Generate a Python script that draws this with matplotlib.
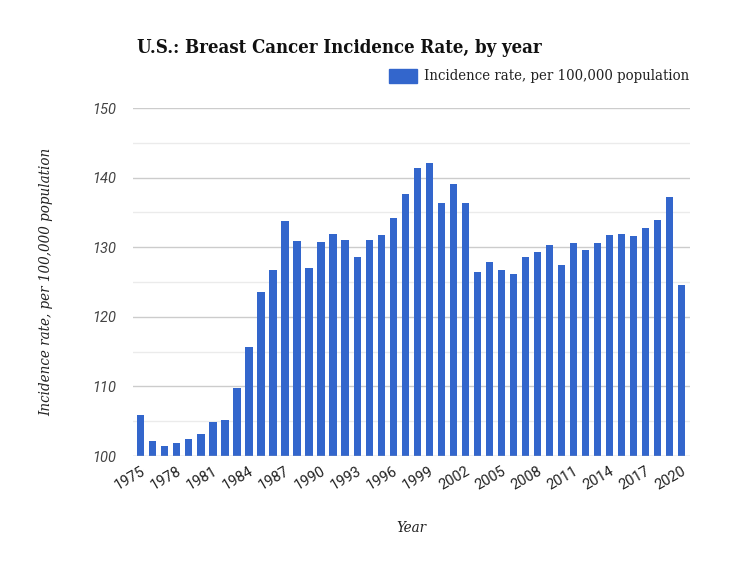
import matplotlib
matplotlib.use("Agg")
import matplotlib.pyplot as plt
from matplotlib.patches import Rectangle
from matplotlib import font_manager as fm

years = list(range(1975, 2021))
rates = [105.9, 102.1, 101.5, 101.9, 102.5, 103.1, 104.9, 105.2, 109.8, 115.7,
         123.6, 126.7, 133.8, 130.9, 127.0, 130.8, 131.9, 131.0, 128.6, 131.0,
         131.8, 134.2, 137.7, 141.4, 142.1, 136.4, 139.1, 136.4, 126.5, 127.9,
         126.7, 126.2, 128.6, 129.3, 130.3, 127.5, 130.6, 129.6, 130.6, 131.8,
         131.9, 131.6, 132.8, 133.9, 137.2, 124.5]
xtick_years = list(range(1975, 2021, 3))
ytick_vals = [100, 110, 120, 130, 140, 150]
series_name = "Incidence rate, per 100,000 population"
title = "U.S.: Breast Cancer Incidence Rate, by year"

cond = [f for f in fm.fontManager.ttflist if f.name == "DejaVu Serif" and "ondensed" in f.fname]
serif = "DejaVu Serif"
stretch = "condensed" if cond else "normal"

fig = plt.figure(figsize=(7.5, 5.63), dpi=100)
ax = fig.add_axes([133/750, 1-456/563, (690-133)/750, (456-108)/563])

bar_color = "#3366CC"
ax.bar(years, [r - 100 for r in rates], bottom=100, width=0.6, color=bar_color, zorder=3)

ax.set_ylim(100, 150)
ax.set_xlim(1974.35, 2020.7)

for v in range(105, 150, 10):
    ax.axhline(v, color="#ebebeb", lw=1, zorder=1)
for v in ytick_vals[1:]:
    ax.axhline(v, color="#cccccc", lw=1, zorder=1)
ax.axhline(100, color="#bbbbbb", lw=1, zorder=4)

ax.set_yticks(ytick_vals)
ax.set_yticklabels([str(v) for v in ytick_vals], fontstyle="italic",
                   fontsize=10.5, color="#444444", family="Roboto")
ax.set_xticks(xtick_years)
ax.set_xticklabels([str(y) for y in xtick_years], rotation=30, ha="right",
                   rotation_mode="anchor", fontsize=10.5, color="#222222", family="Roboto")
ax.tick_params(axis="both", length=0)
ax.tick_params(axis="y", pad=12)
ax.tick_params(axis="x", pad=6)
for s in ax.spines.values():
    s.set_visible(False)

ax.set_ylabel("Incidence rate, per 100,000 population", fontstyle="italic",
              fontsize=10.8, family=serif, fontstretch=stretch, color="#222222", labelpad=28)
ax.set_xlabel("Year", fontstyle="italic", fontsize=10.8, family=serif, fontstretch=stretch,
              color="#222222", labelpad=20)

fig.text(137/750, 1-48/563, title, fontsize=13.3, fontweight="bold",
         family=serif, fontstretch=stretch, color="#111111", va="center", ha="left")

fig.patches.append(Rectangle((389/750, 1-83/563), 28/750, 14/563,
                             transform=fig.transFigure, color=bar_color, figure=fig))
fig.text(424/750, 1-76/563, series_name, fontsize=10.7, family=serif, fontstretch=stretch,
         color="#222222", va="center", ha="left")

fig.savefig("out.png", dpi=100, facecolor="white")
